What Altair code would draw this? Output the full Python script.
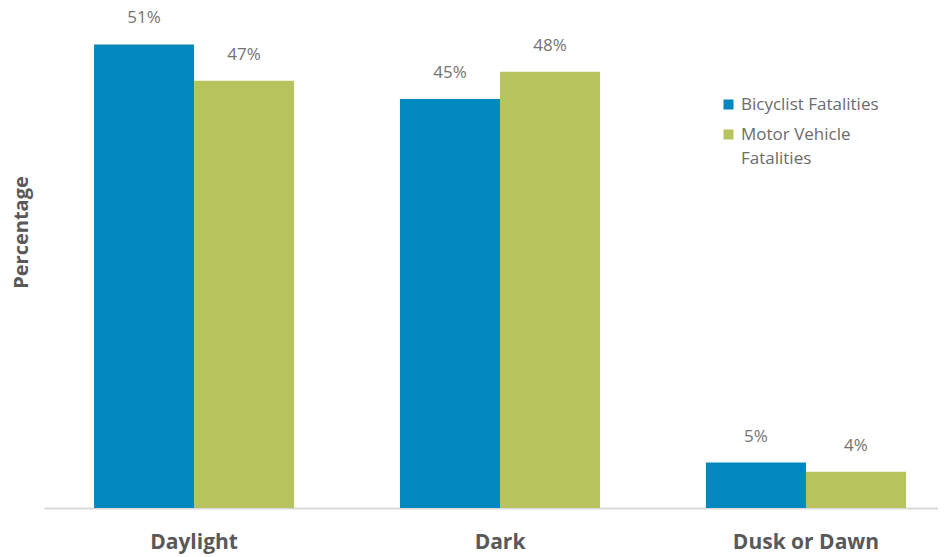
import altair as alt
import pandas as pd

categories = ["Daylight", "Dark", "Dusk or Dawn"]
series = ["Bicyclist Fatalities", "Motor Vehicle Fatalities"]
bicyclist = [51, 45, 5]
motor = [47, 48, 4]
colors = ["#0088BF", "#B6C35E"]

rows = []
for i, c in enumerate(categories):
    rows.append({"cat": c, "series": series[0], "val": bicyclist[i], "lbl": f"{bicyclist[i]}%"})
    rows.append({"cat": c, "series": series[1], "val": motor[i], "lbl": f"{motor[i]}%"})
df = pd.DataFrame(rows)

FONT = "Open Sans"

x = alt.X("cat:N", sort=categories, title=None,
          scale=alt.Scale(paddingInner=0.346, paddingOuter=0.134, align=0.61),
          axis=alt.Axis(labelAngle=0, labelFont=FONT, labelFontSize=21, labelFontWeight="bold",
                        labelColor="#595959", labelPadding=23, ticks=False,
                        domainColor="#D9D9D9", domainWidth=2))
y = alt.Y("val:Q", scale=alt.Scale(domain=[0, 54.35], nice=False),
          axis=alt.Axis(title="Percentage", titleFont=FONT, titleFontSize=20, titleFontWeight="bold",
                        titleColor="#595959", labels=False, ticks=False, domain=False, grid=False,
                        titleAngle=270, titleX=-23, titleY=218, titleAlign="center",
                        titleBaseline="middle"))

color = alt.Color("series:N", sort=series,
                  scale=alt.Scale(domain=series, range=colors),
                  legend=alt.Legend(title=None, orient="none", legendX=676, legendY=82,
                                    symbolType="square", symbolSize=100, symbolStrokeWidth=0,
                                    labelFont=FONT, labelFontSize=17, labelColor="#6B6B6B",
                                    labelLimit=300, rowPadding=12, padding=0,
                                    labelExpr="datum.label == 'Motor Vehicle Fatalities' ? ['Motor Vehicle', 'Fatalities'] : datum.label"))

base = alt.Chart(df).encode(x=x, xOffset=alt.XOffset("series:N", sort=series))

bars = base.mark_bar().encode(y=y, color=color)
labels = base.mark_text(dy=-17, baseline="bottom", font=FONT, fontSize=17, color="#737373").encode(
    y="val:Q", text="lbl:N")

chart = (bars + labels).properties(
    width=894, height=494,
    autosize=alt.AutoSizeParams(type="none"),
    padding={"left": 36, "top": 6, "right": 0, "bottom": 49},
).configure(
    view=alt.ViewConfig(stroke=None),
    style={"guide-label": {"lineHeight": 24}},
)

chart.save("out.html", embed_options={"renderer": "svg", "actions": False})
